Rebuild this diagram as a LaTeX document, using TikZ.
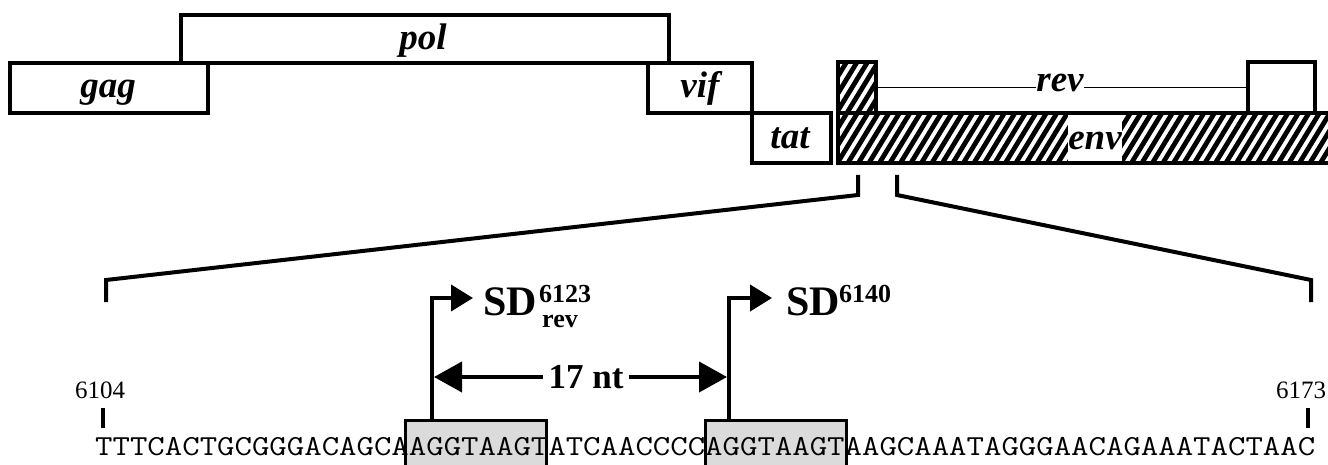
\documentclass[tikz,border=0pt]{standalone}
\usepackage{fontspec}
\setmainfont{Liberation Serif}
\usetikzlibrary{arrows.meta}
\begin{document}
\begin{tikzpicture}[x=1pt,y=-1pt,
  genebox/.style={draw=black,line width=3.5pt,fill=white,inner sep=0pt},
  genelbl/.style={font=\fontsize{37}{40}\selectfont\bfseries\itshape,anchor=base,inner sep=0pt},
  thickline/.style={line width=4pt,line join=miter},
  sitebox/.style={draw=black,line width=3pt,fill=black!14,inner sep=0pt},
  sdlbl/.style={font=\fontsize{42}{44}\selectfont\bfseries,anchor=base west,inner sep=0pt},
  sdsup/.style={font=\fontsize{26}{28}\selectfont\bfseries,anchor=base west,inner sep=0pt},
  numlbl/.style={font=\fontsize{25}{27}\selectfont,anchor=base,inner sep=0pt},
  bigtip/.style={-{Triangle[length=28pt,width=30pt]}},
  smalltip/.style={-{Triangle[length=22pt,width=26pt]}}]
\useasboundingbox (0,0) rectangle (1328,465);

% gene boxes
\node[genebox,minimum width=488pt,minimum height=48pt] (pol) at (425,39) {};
\node[genebox,minimum width=198pt,minimum height=50pt] (gag) at (109,88) {};
\node[genebox,minimum width=104pt,minimum height=50pt] (vif) at (700,88) {};
\node[genebox,minimum width=79pt,minimum height=50pt] (tat) at (791.5,138) {};
\node[genebox,minimum width=67pt,minimum height=51pt] (revB) at (1281.5,87.5) {};

% hatching
\begin{scope}
  \clip (838,62) rectangle (876,113) (838,113) rectangle (1332,163);
  \foreach \k in {0,...,62} {
    \draw[line width=4.8pt] (680+\k*10.5,180) -- ++(110,-180);
  }
\end{scope}
\node[fill=white,minimum width=54pt,minimum height=46pt,inner sep=0pt] (envwhite) at (1095,138) {};
\node[draw=black,line width=3.5pt,minimum width=38pt,minimum height=51pt,inner sep=0pt] (revA) at (857,87.5) {};
\node[draw=black,line width=3.5pt,minimum width=494pt,minimum height=50pt,inner sep=0pt] (env) at (1085,138) {};

% gene labels
\node[genelbl] (polL) at (423,50) {pol};
\node[genelbl] (gagL) at (108,98) {gag};
\node[genelbl] (vifL) at (700,98) {vif};
\node[genelbl] (tatL) at (790,149) {tat};
\node[genelbl] (envL) at (1095,150) {env};
\node[genelbl] (revL) at (1060,92) {rev};
\draw[line width=1.6pt] (revA.east) -- (revA.east -| revL.west);
\draw[line width=1.6pt] (revL.east |- revB.west) -- (revB.west);

% zoom lines
\coordinate (zl0) at (858,175);
\coordinate (zl1) at (858,195);
\coordinate (zl2) at (106,280);
\coordinate (zl3) at (106,302);
\coordinate (zr0) at (897,175);
\coordinate (zr1) at (897,195);
\coordinate (zr2) at (1311,280);
\coordinate (zr3) at (1311,302);
\draw[thickline] (zl0) -- (zl1) -- (zl2) -- (zl3);
\draw[thickline] (zr0) -- (zr1) -- (zr2) -- (zr3);

% sequence
\node[sitebox,minimum width=141pt,minimum height=52pt] (site1) at (475.5,446) {};
\node[sitebox,minimum width=141pt,minimum height=52pt] (site2) at (775.5,446) {};
\node[font=\ttfamily\fontsize{29}{32}\selectfont,anchor=base west,inner sep=0pt] (seq) at (95,455)
  {\scalebox{1.167}[1]{TTTCACTGCGGGACAGCAAGGTAAGTATCAACCCCAGGTAAGTAAGCAAATAGGGAACAGAAATACTAAC}};

% ticks and numbers
\coordinate (t1a) at (103,408);
\coordinate (t1b) at (103,428);
\coordinate (t2a) at (1308,408);
\coordinate (t2b) at (1308,428);
\draw[line width=4pt] (t1a) -- (t1b);
\draw[line width=4pt] (t2a) -- (t2b);
\node[numlbl] (n1) at (100,398) {6104};
\node[numlbl] (n2) at (1301,398) {6173};

% splice donor arrows
\coordinate (a1base) at (432,420);
\coordinate (a1tip) at (473,298);
\coordinate (a2base) at (729,420);
\coordinate (a2tip) at (772,298);
\draw[line width=4pt,smalltip] (a1base) |- (a1tip);
\draw[line width=4pt,smalltip] (a2base) |- (a2tip);
\node[sdlbl] (sd1) at (483,315) {SD};
\node[sdsup] (sd1sup) at (539,302) {6123};
\node[sdsup] (sd1sub) at (542,327) {rev};
\node[sdlbl] (sd2) at (786,315) {SD};
\node[sdsup] (sd2sup) at (839,302) {6140};

% 17 nt
\node[font=\fontsize{35}{38}\selectfont\bfseries,inner xsep=5pt,inner ysep=0pt,anchor=base] (nt) at (586,388) {17 nt};
\coordinate (m1) at (434,377);
\coordinate (m2) at (727,377);
\draw[line width=4pt,bigtip] (nt.west |- m1) -- (m1);
\draw[line width=4pt,bigtip] (nt.east |- m2) -- (m2);
\end{tikzpicture}
\end{document}
